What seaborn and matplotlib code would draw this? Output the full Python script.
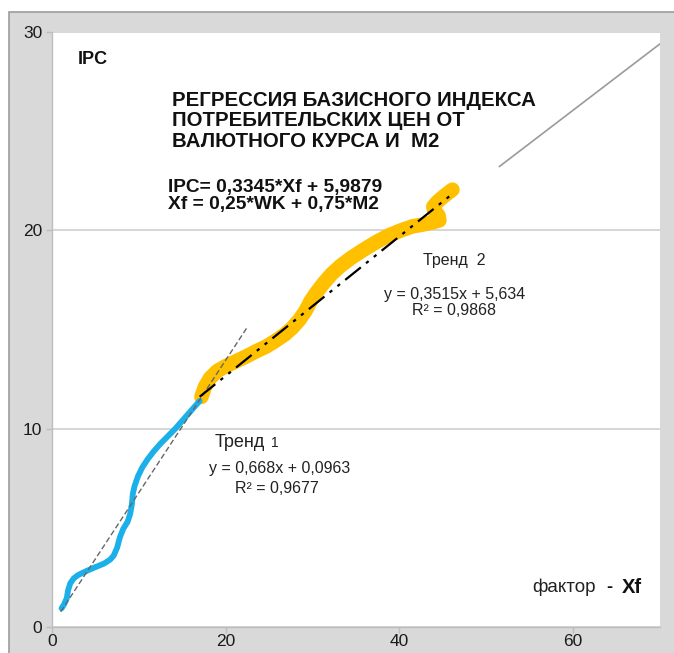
import numpy as np
import pandas as pd
import matplotlib
matplotlib.use("Agg")
import matplotlib.pyplot as plt
from matplotlib.patches import Rectangle
import seaborn as sns

# ---- data ----
blue_x = [1.1, 1.4, 1.7, 1.85, 2.1, 2.5, 3.0, 4.0, 5.0, 6.0, 6.7, 7.1, 7.5, 7.8, 8.2, 8.7, 9.0,
          9.2, 9.3, 9.5, 9.9, 10.4, 11.0, 11.7, 12.5, 13.3, 14.2, 15.0, 16.0, 17.0]
blue_y = [0.94, 1.15, 1.45, 1.85, 2.2, 2.45, 2.62, 2.83, 3.02, 3.2, 3.4, 3.6, 4.0, 4.5, 4.95, 5.3, 5.7,
          6.2, 6.7, 7.1, 7.6, 8.05, 8.45, 8.85, 9.25, 9.6, 10.0, 10.4, 10.9, 11.4]

orange_x = [17.2, 17.6, 18.2, 19.0, 20.0, 21.2, 22.4, 23.5, 24.7, 25.8, 26.8, 27.7, 28.5, 29.2, 29.8,
            30.5, 31.3, 32.2, 33.2, 34.4, 35.8, 37.3, 38.8, 40.2, 41.5, 42.8, 43.8, 44.6, 44.5, 44.0,
            43.9, 44.4, 45.2, 46.1]
orange_y = [11.6, 12.1, 12.55, 12.9, 13.15, 13.4, 13.65, 13.9, 14.15, 14.45, 14.75, 15.1, 15.5, 15.95,
            16.45, 16.9, 17.35, 17.8, 18.2, 18.6, 19.0, 19.4, 19.75, 20.0, 20.2, 20.3, 20.4, 20.5,
            20.75, 21.0, 21.2, 21.45, 21.75, 22.05]

trend1_x = [1.0, 22.5]      # y = 0.668x + 0.0963
trend1_slope, trend1_icpt = 0.668, 0.0963
trend2_x = [17.0, 46.0]     # y = 0.3515x + 5.634
trend2_slope, trend2_icpt = 0.3515, 5.634
ipc_x = [51.5, 70.0]        # IPC = 0.3345*Xf + 5.9879
ipc_slope, ipc_icpt = 0.3345, 5.9879

x_ticks = [0, 20, 40, 60]
y_ticks = [0, 10, 20, 30]

sns.set_theme(style="white")
plt.rcParams['font.family'] = ['Liberation Sans', 'DejaVu Sans']

W, H = 674, 653
fig = plt.figure(figsize=(W / 100, H / 100), dpi=100, facecolor='white')
fig.patches.append(Rectangle((9 / W, -0.01), 1.0, (H - 12) / H + 0.01,
                             transform=fig.transFigure, fc='#d9d9d9', ec='#9c9c9c', lw=1.2, zorder=-10))
ax = fig.add_axes([52 / W, 1 - 627 / H, (660 - 52) / W, (627 - 32) / H])
ax.set_facecolor('white')
ax.set_zorder(1)

df_b = pd.DataFrame({'x': blue_x, 'y': blue_y})
df_o = pd.DataFrame({'x': orange_x, 'y': orange_y})
sns.lineplot(data=df_o, x='x', y='y', sort=False, ax=ax, color='#ffc000', lw=10.5,
             solid_capstyle='round', solid_joinstyle='round', zorder=3)
sns.lineplot(data=df_b, x='x', y='y', sort=False, ax=ax, color='#1cb0ea', lw=4.2,
             solid_capstyle='round', solid_joinstyle='round', zorder=4)

t1 = pd.DataFrame({'x': trend1_x, 'y': [trend1_slope * v + trend1_icpt for v in trend1_x]})
t2 = pd.DataFrame({'x': trend2_x, 'y': [trend2_slope * v + trend2_icpt for v in trend2_x]})
ip = pd.DataFrame({'x': ipc_x, 'y': [ipc_slope * v + ipc_icpt for v in ipc_x]})
sns.lineplot(data=t1, x='x', y='y', ax=ax, color='#666666', lw=1.0, zorder=5,
             linestyle=(0, (4, 2)))
sns.lineplot(data=t2, x='x', y='y', ax=ax, color='black', lw=1.6, zorder=5,
             linestyle=(0, (9, 3, 1.5, 3, 1.5, 3)))
sns.lineplot(data=ip, x='x', y='y', ax=ax, color='#9a9a9a', lw=1.2, zorder=5)

ax.set_xlim(0, 70)
ax.set_ylim(0, 30)
ax.set_xticks(x_ticks)
ax.set_yticks(y_ticks)
ax.set_xlabel('')
ax.set_ylabel('')
ax.yaxis.grid(True, color='#d0d0d0', lw=1.2)
ax.xaxis.grid(False)
for s in ['left', 'bottom']:
    ax.spines[s].set_color('#bdbdbd')
    ax.spines[s].set_linewidth(1.0)
for s in ['top', 'right']:
    ax.spines[s].set_visible(False)
ax.tick_params(axis='both', which='major', direction='out', length=4, width=1,
               color='#bdbdbd', labelsize=12.5, labelcolor='#1a1a1a', left=True, bottom=True)
ax.tick_params(axis='x', pad=1)
ax.tick_params(axis='y', pad=3)
ax.set_axisbelow(True)

# ---- annotations ----
ax.text(3.0, 28.6, 'IPC', fontsize=13, fontweight='bold', ha='left', va='center', color='#111111')
title = 'РЕГРЕССИЯ БАЗИСНОГО ИНДЕКСА\nПОТРЕБИТЕЛЬСКИХ ЦЕН ОТ\nВАЛЮТНОГО КУРСА И  М2'
ax.text(13.8, 27.05, title, fontsize=14.7, fontweight='bold', ha='left', va='top',
        linespacing=1.12, color='#111111')
ax.text(13.3, 22.6, 'IPC= 0,3345*Xf + 5,9879\nXf = 0,25*WK + 0,75*M2', fontsize=13.8,
        fontweight='bold', ha='left', va='top', linespacing=1.0, color='#111111')

ax.text(46.3, 18.5, 'Тренд  2', fontsize=11.5, ha='center', va='center', color='#222222')
ax.text(46.3, 16.75, 'y = 0,3515x + 5,634', fontsize=11.5, ha='center', va='center', color='#222222')
ax.text(46.3, 15.95, 'R² = 0,9868', fontsize=11.5, ha='center', va='center', color='#222222')

ax.text(18.75, 9.3, 'Тренд', fontsize=13, ha='left', va='center', color='#222222')
ax.text(25.2, 9.28, '1', fontsize=10, ha='left', va='center', color='#222222')
ax.text(26.2, 8.0, 'y = 0,668x + 0,0963', fontsize=11.5, ha='center', va='center', color='#222222')
ax.text(25.9, 7.0, 'R² = 0,9677', fontsize=11.5, ha='center', va='center', color='#222222')

ax.text(55.3, 1.98, 'фактор', fontsize=13.5, ha='left', va='center', color='#222222')
ax.text(63.8, 1.98, '-', fontsize=13, fontweight='bold', ha='left', va='center', color='#111111')
ax.text(65.6, 1.98, 'Xf', fontsize=14.5, fontweight='bold', ha='left', va='center', color='#111111')

fig.savefig('out.png', dpi=100, facecolor=fig.get_facecolor())
